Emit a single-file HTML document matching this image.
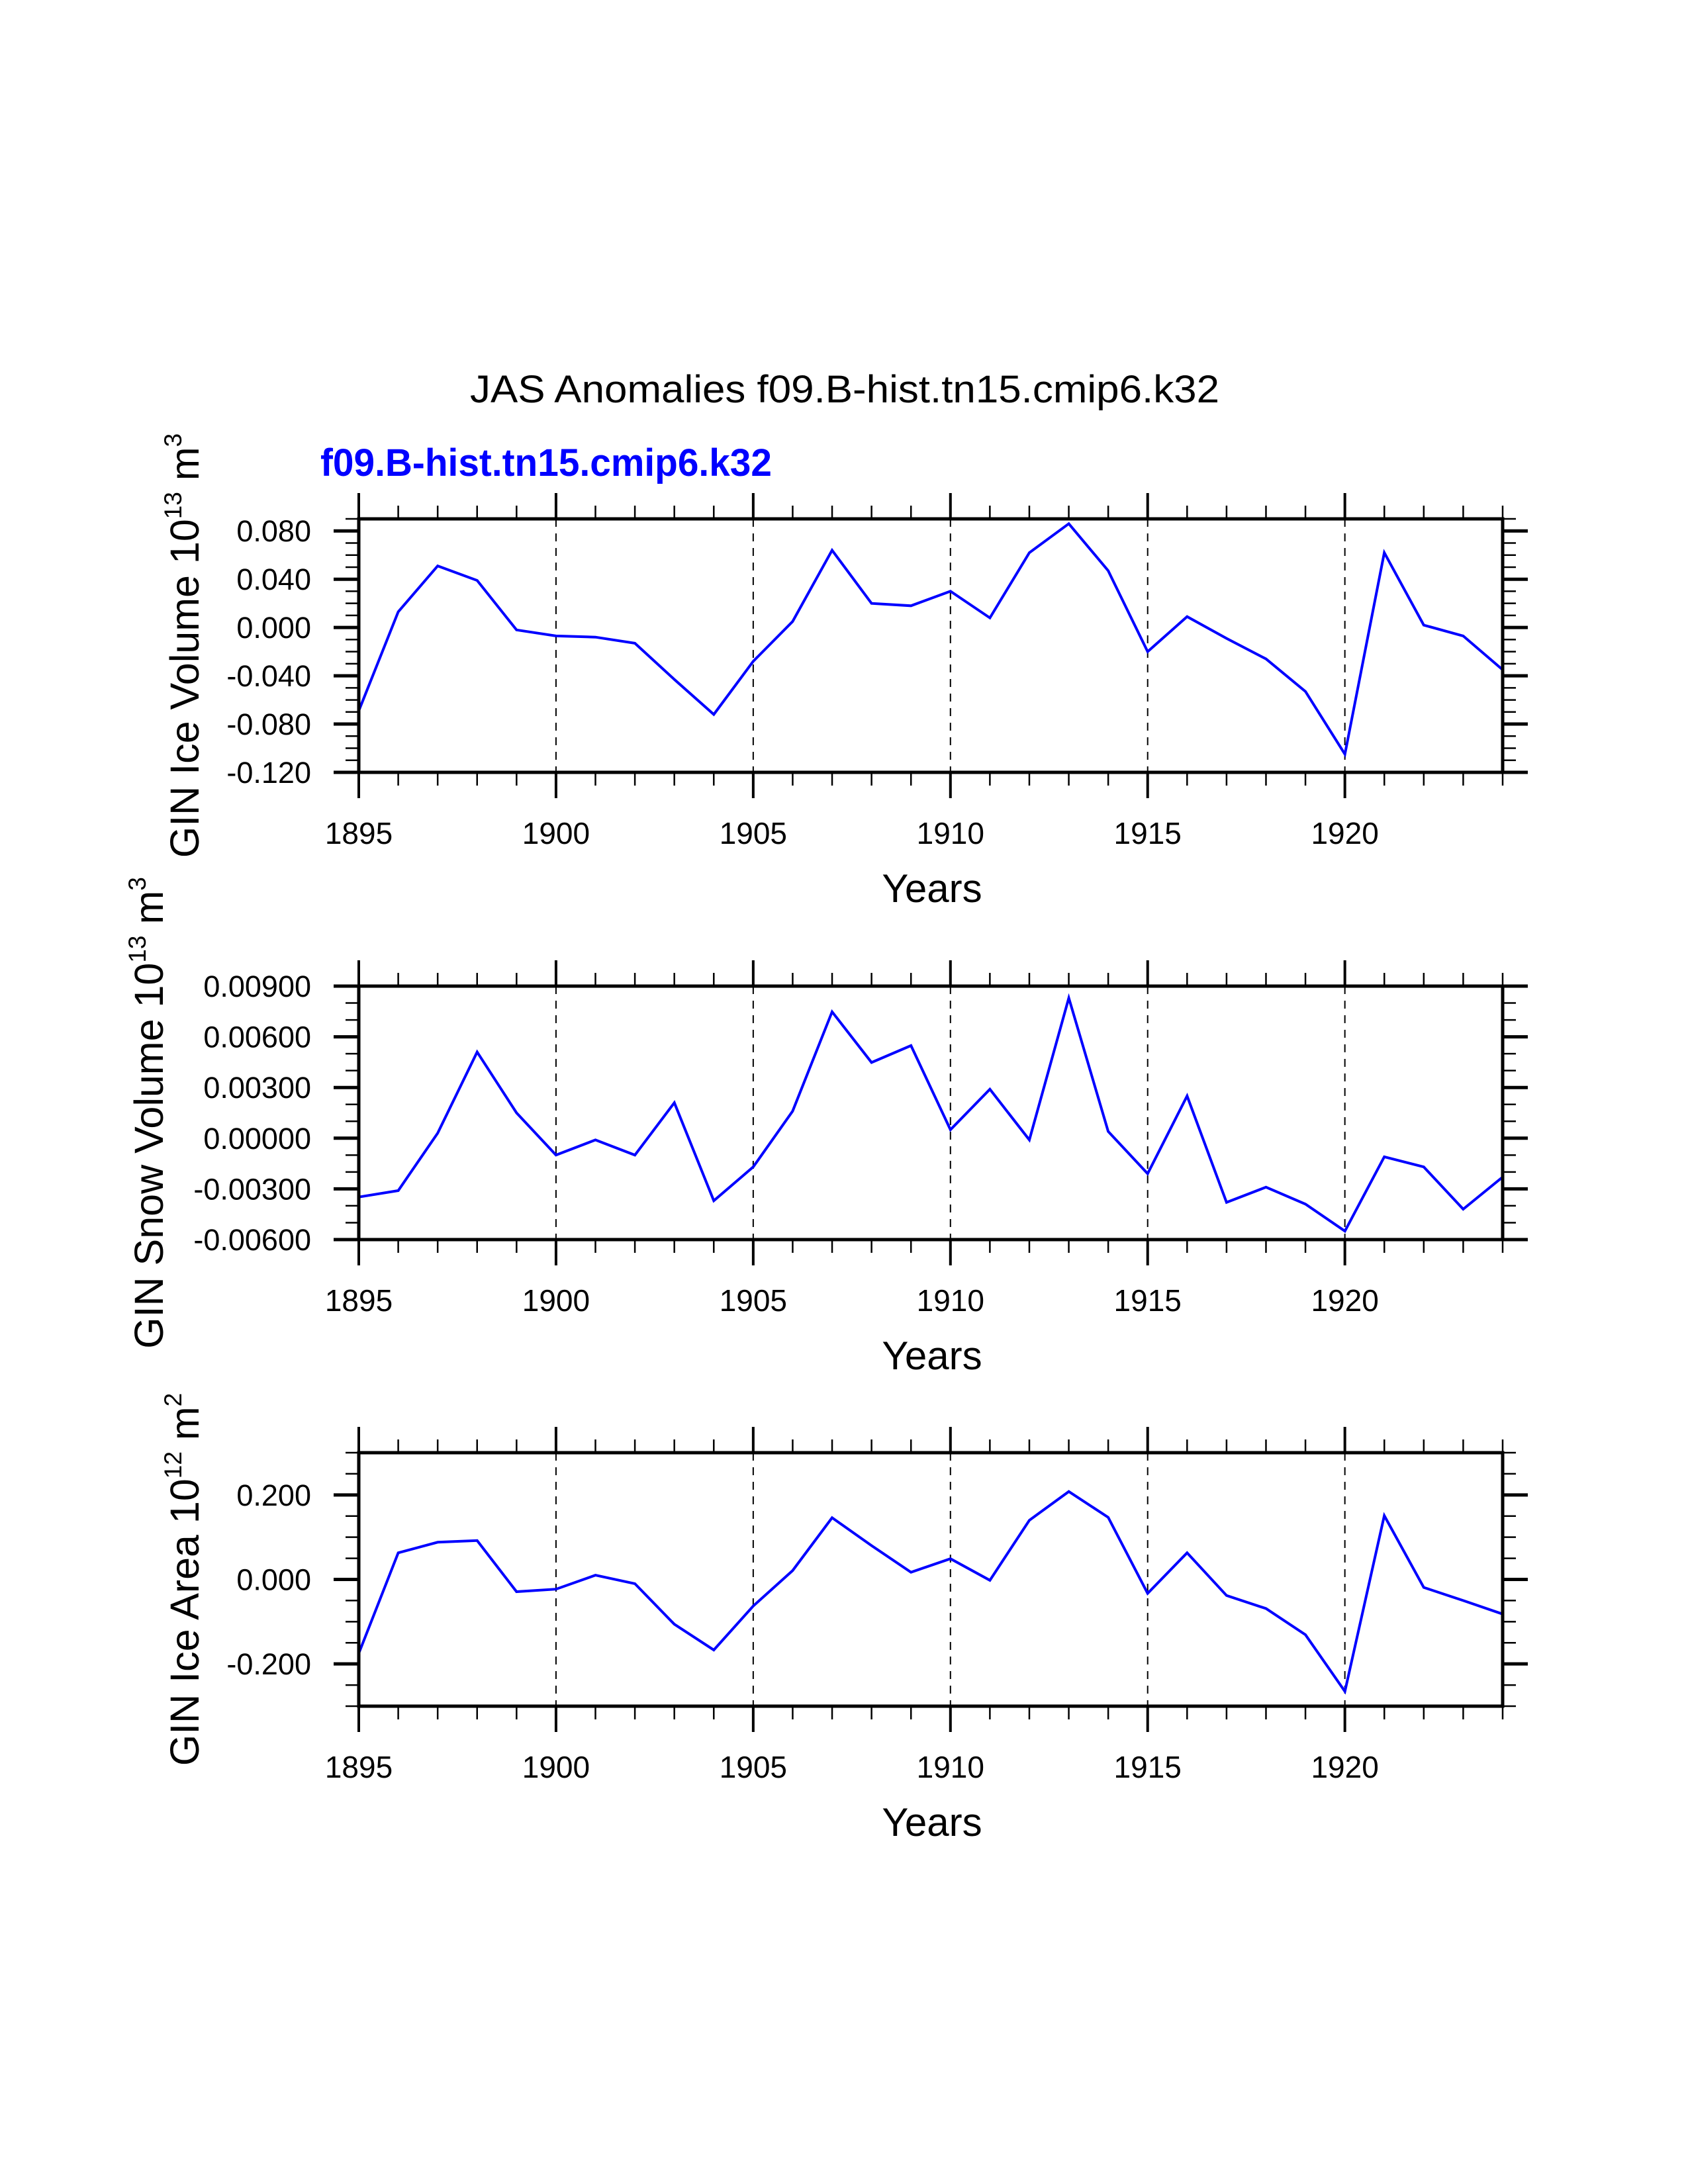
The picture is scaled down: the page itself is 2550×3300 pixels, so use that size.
<!DOCTYPE html>
<html><head><meta charset="utf-8"><style>
html,body{margin:0;padding:0;background:#fff;}
svg{display:block;font-family:"Liberation Sans",Arial,sans-serif;}
</style></head><body>
<svg id="chart" width="2550" height="3300" viewBox="0 0 2550 3300" xmlns="http://www.w3.org/2000/svg">
<rect width="2550" height="3300" fill="#fff"/>
<text x="1276" y="608" font-size="58" text-anchor="middle" textLength="1132" lengthAdjust="spacingAndGlyphs">JAS Anomalies f09.B-hist.tn15.cmip6.k32</text>
<text x="484" y="719" font-size="58" font-weight="bold" fill="#0000ff" textLength="682" lengthAdjust="spacingAndGlyphs">f09.B-hist.tn15.cmip6.k32</text>
</svg>
<script>
const years = [1895,1896,1897,1898,1899,1900,1901,1902,1903,1904,1905,1906,1907,1908,1909,1910,1911,1912,1913,1914,1915,1916,1917,1918,1919,1920,1921,1922,1923,1924];
const iceVolume = [-0.069,0.013,0.051,0.039,-0.002,-0.007,-0.008,-0.013,-0.043,-0.072,-0.028,0.005,0.064,0.020,0.018,0.030,0.008,0.062,0.086,0.047,-0.020,0.009,-0.009,-0.026,-0.053,-0.105,0.062,0.002,-0.007,-0.035];
const snowVolume = [-0.00348,-0.0031,0.0003,0.0051,0.0015,-0.001,-0.0001,-0.001,0.0021,-0.0037,-0.0017,0.0016,0.00748,0.00448,0.00548,0.0005,0.0029,-0.0001,0.0083,0.0004,-0.0021,0.0025,-0.0038,-0.0029,-0.0039,-0.0055,-0.0011,-0.0017,-0.0042,-0.0023];
const iceArea = [-0.175,0.063,0.088,0.092,-0.029,-0.023,0.010,-0.010,-0.106,-0.167,-0.063,0.021,0.146,0.080,0.017,0.049,-0.002,0.140,0.208,0.147,-0.033,0.063,-0.038,-0.069,-0.131,-0.265,0.151,-0.019,-0.050,-0.082];
const xTickLabels = ["1895","1900","1905","1910","1915","1920"];
const iceVolTicks = ["0.080","0.040","0.000","-0.040","-0.080","-0.120"];
const snowTicks = ["0.00900","0.00600","0.00300","0.00000","-0.00300","-0.00600"];
const areaTicks = ["0.200","0.000","-0.200"];

const NS = "http://www.w3.org/2000/svg";
const svg = document.getElementById('chart');
function mk(tag, attrs, parent){
  const e = document.createElementNS(NS, tag);
  for (const k in attrs) e.setAttribute(k, attrs[k]);
  (parent||svg).appendChild(e);
  return e;
}
const X0 = 542, X1 = 2270, XMIN = 1895, XMAX = 1924;
function xs(v){ return X0 + (v - XMIN) / (XMAX - XMIN) * (X1 - X0); }

const panels = [
  {name:'ice-volume', top:784, bot:1167, ymin:-0.12, ymax:0.09, minor:0.01, ticks:iceVolTicks, data:iceVolume, label:['GIN Ice Volume 10','13',' m','3'], lx:279},
  {name:'snow-volume', top:1490, bot:1873, ymin:-0.006, ymax:0.009, minor:0.001, ticks:snowTicks, data:snowVolume, label:['GIN Snow Volume 10','13',' m','3'], lx:225},
  {name:'ice-area', top:2195, bot:2578, ymin:-0.3, ymax:0.3, minor:0.05, ticks:areaTicks, data:iceArea, label:['GIN Ice Area 10','12',' m','2'], lx:279}
];

panels.forEach(p => {
  const g = mk('g', {});
  
  
  const ys = v => p.bot - (v - p.ymin) / (p.ymax - p.ymin) * (p.bot - p.top);
  for (let yr = 1900; yr <= 1920; yr += 5) {
    const l = mk('line', {x1:xs(yr), x2:xs(yr), y1:p.top, y2:p.bot, stroke:'#000', 'stroke-width':2, 'stroke-dasharray':'12,10'}, g);
    
    
  }
  for (let yr = XMIN; yr <= XMAX; yr++) {
    const major = (yr % 5 === 0);
    const len = major ? 39 : 20;
    const w = major ? 4 : 2.5;
    mk('line', {x1:xs(yr), x2:xs(yr), y1:p.top, y2:p.top - len, stroke:'#000', 'stroke-width':w}, g);
    mk('line', {x1:xs(yr), x2:xs(yr), y1:p.bot, y2:p.bot + len, stroke:'#000', 'stroke-width':w}, g);
  }
  const n = Math.round((p.ymax - p.ymin) / p.minor);
  const majorVals = p.ticks.map(Number);
  for (let i = 0; i <= n; i++) {
    const v = p.ymin + i * p.minor;
    const isMajor = majorVals.some(m => Math.abs(m - v) < p.minor * 0.01);
    const len = isMajor ? 38 : 20;
    const w = isMajor ? 5 : 2.5;
    const y = ys(v);
    mk('line', {x1:X0, x2:X0 - len, y1:y, y2:y, stroke:'#000', 'stroke-width':w}, g);
    mk('line', {x1:X1, x2:X1 + len, y1:y, y2:y, stroke:'#000', 'stroke-width':w}, g);
  }
  p.ticks.forEach(t => {
    const tx = mk('text', {x:470, y:ys(Number(t)) + 16, 'font-size':45, 'text-anchor':'end'}, g);
    tx.textContent = t;
    
    
  });
  xTickLabels.forEach(t => {
    const tx = mk('text', {x:xs(Number(t)), y:p.bot + 108, 'font-size':46, 'text-anchor':'middle'}, g);
    tx.textContent = t;
    
    
  });
  const xt = mk('text', {x:(X0 + X1) / 2 + 2, y:p.bot + 196, 'font-size':60, 'text-anchor':'middle'}, g);
  xt.textContent = 'Years';
  
  
  const cy = (p.top + p.bot) / 2;
  const yt = mk('text', {x:0, y:0, 'font-size':61, 'text-anchor':'middle', transform:'translate(' + (p.lx + 21) + ',' + cy + ') rotate(-90)'}, g);
  
  
  const parts = p.label;
  const s1 = mk('tspan', {}, yt); s1.textContent = parts[0];
  const s2 = mk('tspan', {'font-size':37, dy:-26}, yt); s2.textContent = parts[1];
  const s3 = mk('tspan', {dy:26}, yt); s3.textContent = parts[2];
  const s4 = mk('tspan', {'font-size':37, dy:-26}, yt); s4.textContent = parts[3];
  const pts = years.map((yr, i) => xs(yr).toFixed(1) + ',' + ys(p.data[i]).toFixed(1)).join(' ');
  const pl = mk('polyline', {points:pts, fill:'none', stroke:'#0000ff', 'stroke-width':4, 'stroke-linejoin':'miter'}, g);
  
  
  const fr = mk('rect', {x:X0, y:p.top, width:X1 - X0, height:p.bot - p.top, fill:'none', stroke:'#000', 'stroke-width':5}, g);
  
  
});
</script>
</body></html>
